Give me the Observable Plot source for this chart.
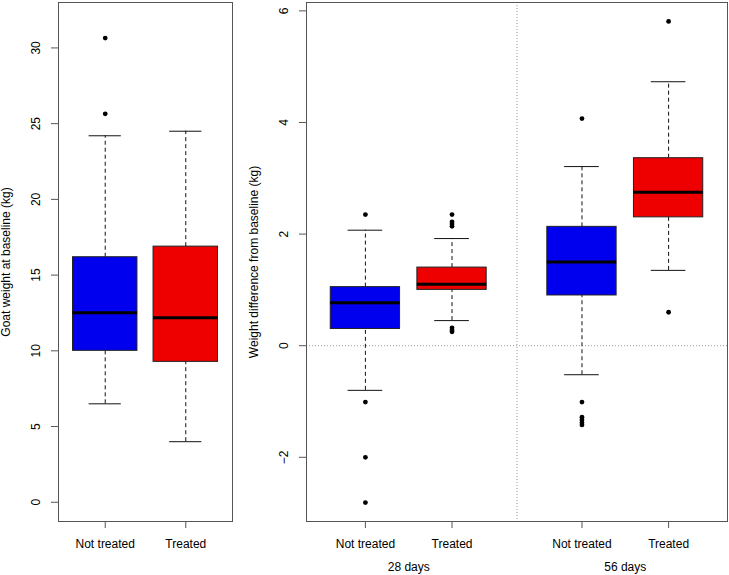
<!DOCTYPE html>
<html>
<head>
<meta charset="utf-8">
<script src="https://cdn.jsdelivr.net/npm/d3@7"></script>
<script src="https://cdn.jsdelivr.net/npm/@observablehq/plot@0.6"></script>
<style>
  html, body { margin: 0; padding: 0; background: #fff; }
  #wrap { position: relative; width: 729px; height: 575px; overflow: hidden; }
  #left { position: absolute; left: 0; top: 0; }
  #right { position: absolute; left: 240px; top: 0; }
</style>
</head>
<body>
<div id="wrap"><div id="left"></div><div id="right"></div></div>
<script>
// ---------- Data ----------
// Left panel: goat weight at baseline
const leftGroups  = ["Not treated", "Treated"];
const leftLower   = [6.5, 4.0];
const leftQ1      = [10.0, 9.27];
const leftMedian  = [12.52, 12.19];
const leftQ3      = [16.18, 16.88];
const leftUpper   = [24.2, 24.5];
const leftOutliers = [[30.65, 25.65], []];
const leftTitle   = "Goat weight at baseline (kg)";
const leftYTicks  = [0, 5, 10, 15, 20, 25, 30];

// Right panel: weight difference from baseline
const rightGroups  = ["Not treated", "Treated", "Not treated", "Treated"];
const rightPeriods = ["28 days", "28 days", "56 days", "56 days"];
const rightLower   = [-0.80, 0.45, -0.52, 1.35];
const rightQ1      = [0.30, 1.00, 0.90, 2.30];
const rightMedian  = [0.77, 1.10, 1.50, 2.75];
const rightQ3      = [1.05, 1.40, 2.13, 3.36];
const rightUpper   = [2.07, 1.92, 3.21, 4.73];
const rightOutliers = [
  [2.35, -1.01, -2.0, -2.81],
  [2.35, 2.22, 2.18, 2.14, 0.32, 0.28, 0.25],
  [4.07, -1.01, -1.28, -1.33, -1.38, -1.42],
  [5.81, 0.60]
];
const rightTitle  = "Weight difference from baseline (kg)";
const rightYTicks = [-2, 0, 2, 4, 6];

// ---------- Styling ----------
const COLORS = {"Not treated": "#0000EE", "Treated": "#EE0000"};
const FONT = "'Liberation Sans', Arial, Helvetica, sans-serif";
const AXIS = "#555";
const fmt = d3.format("d");

function boxMarks(stats, outs) {
  return [
    Plot.ruleX(stats, {x: "pos", y1: "q3", y2: "upper", stroke: "#111", strokeDasharray: "4,3"}),
    Plot.ruleX(stats, {x: "pos", y1: "lower", y2: "q1", stroke: "#111", strokeDasharray: "4,3"}),
    Plot.ruleY(stats, {y: "upper", x1: d => d.pos - 0.2, x2: d => d.pos + 0.2, stroke: "#111"}),
    Plot.ruleY(stats, {y: "lower", x1: d => d.pos - 0.2, x2: d => d.pos + 0.2, stroke: "#111"}),
    Plot.rect(stats, {x1: d => d.pos - 0.4, x2: d => d.pos + 0.4, y1: "q1", y2: "q3",
      fill: d => COLORS[d.group], stroke: "#222", strokeWidth: 1}),
    Plot.ruleY(stats, {y: "median", x1: d => d.pos - 0.4, x2: d => d.pos + 0.4, stroke: "#000", strokeWidth: 3}),
    Plot.dot(outs, {x: "pos", y: "v", r: 2.4, fill: "#000", stroke: null})
  ];
}

function axisMarks(yTicks, positions, labelDx, title, titleDx) {
  return [
    Plot.frame({stroke: AXIS}),
    Plot.axisY({ticks: yTicks, tickSize: 7, tickFormat: () => "", stroke: AXIS, label: null}),
    Plot.axisX({ticks: positions, tickSize: 7, tickFormat: () => "", stroke: AXIS, label: null}),
    Plot.text(yTicks, {y: d => d, frameAnchor: "left", dx: labelDx, rotate: -90,
      text: d => fmt(d), textAnchor: "middle", lineAnchor: "middle", fill: "#000", fontSize: 12}),
    Plot.text([title], {frameAnchor: "left", dx: titleDx, rotate: -90,
      text: d => d, textAnchor: "middle", lineAnchor: "middle", fill: "#000", fontSize: 12})
  ];
}

// ---------- Left panel ----------
const leftStats = leftGroups.map((g, i) => ({
  group: g, pos: i + 1, lower: leftLower[i], q1: leftQ1[i], median: leftMedian[i], q3: leftQ3[i], upper: leftUpper[i]
}));
const leftOuts = leftOutliers.flatMap((arr, i) => arr.map(v => ({pos: i + 1, v})));

const leftPlot = Plot.plot({
  width: 240, height: 575,
  marginLeft: 58, marginRight: 8, marginTop: 2, marginBottom: 54,
  style: {fontFamily: FONT, fontSize: "12px", background: "transparent"},
  x: {type: "linear", domain: [0.42, 2.58], axis: null},
  y: {type: "linear", domain: [-1.27, 33.0], axis: null},
  marks: [
    ...boxMarks(leftStats, leftOuts),
    ...axisMarks(leftYTicks, leftStats.map(d => d.pos), -22, leftTitle, -52),
    Plot.text(leftStats, {x: "pos", frameAnchor: "bottom", dy: 23, text: "group",
      textAnchor: "middle", lineAnchor: "middle", fill: "#000", fontSize: 12})
  ]
});
document.getElementById("left").appendChild(leftPlot);

// ---------- Right panel ----------
const rightStats = rightGroups.map((g, i) => ({
  group: g, period: rightPeriods[i], pos: i + 1 + (i >= 2 ? 0.5 : 0),
  lower: rightLower[i], q1: rightQ1[i], median: rightMedian[i], q3: rightQ3[i], upper: rightUpper[i]
}));
const rightOuts = rightOutliers.flatMap((arr, i) => arr.map(v => ({pos: rightStats[i].pos, v})));
const periodLabels = d3.groups(rightStats, d => d.period).map(([p, rows]) => ({
  period: p, pos: d3.mean(rows, r => r.pos)
}));
const divider = (rightStats[1].pos + rightStats[2].pos) / 2;

const rightPlot = Plot.plot({
  width: 489, height: 575,
  marginLeft: 66, marginRight: 2, marginTop: 2, marginBottom: 54,
  style: {fontFamily: FONT, fontSize: "12px", background: "transparent"},
  x: {type: "linear", domain: [0.32, 5.18], axis: null},
  y: {type: "linear", domain: [-3.15, 6.15], axis: null},
  marks: [
    Plot.ruleY([0], {stroke: "#999", strokeDasharray: "1,2"}),
    Plot.ruleX([divider], {stroke: "#999", strokeDasharray: "1,2"}),
    ...boxMarks(rightStats, rightOuts),
    ...axisMarks(rightYTicks, rightStats.map(d => d.pos), -22, rightTitle, -52),
    Plot.text(rightStats, {x: "pos", frameAnchor: "bottom", dy: 23, text: "group",
      textAnchor: "middle", lineAnchor: "middle", fill: "#000", fontSize: 12}),
    Plot.text(periodLabels, {x: "pos", frameAnchor: "bottom", dy: 46, text: "period",
      textAnchor: "middle", lineAnchor: "middle", fill: "#000", fontSize: 12})
  ]
});
document.getElementById("right").appendChild(rightPlot);
</script>
</body>
</html>
